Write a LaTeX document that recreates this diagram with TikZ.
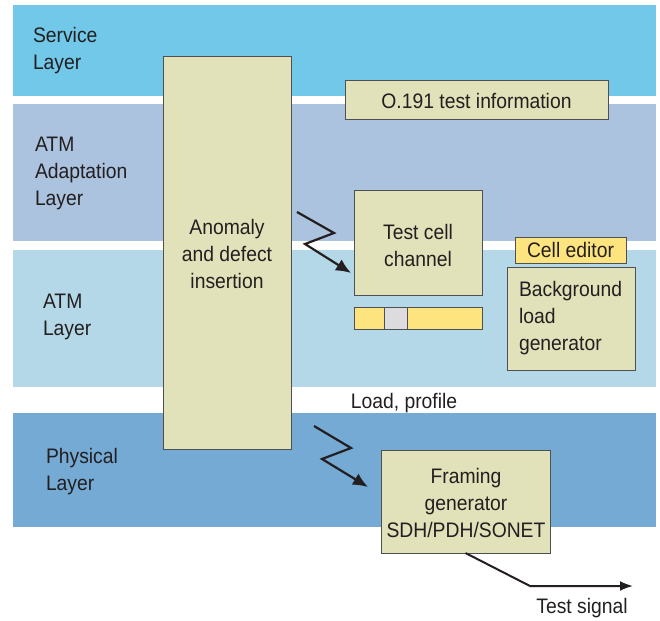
\documentclass[tikz,border=0pt]{standalone}
\usepackage{fontspec}
\setmainfont{Liberation Sans}[FakeStretch=0.92]
\usetikzlibrary{arrows.meta}
\definecolor{svc}{HTML}{72C8E8}
\definecolor{aal}{HTML}{ABC3DF}
\definecolor{atm}{HTML}{B5D8E8}
\definecolor{phy}{HTML}{75AAD5}
\definecolor{boxfill}{HTML}{E1E2B9}
\definecolor{edge}{HTML}{505050}
\definecolor{yel}{HTML}{FDE47F}
\definecolor{gry}{HTML}{DCDCDE}
\definecolor{txt}{HTML}{231F20}
\begin{document}
\begin{tikzpicture}[x=1pt,y=-1pt,
  every node/.style={font=\fontsize{21}{27}\selectfont, text=txt, inner sep=0pt, outer sep=0pt},
  box/.style={fill=boxfill, draw=edge, line width=1pt, anchor=north west},
  ybox/.style={fill=yel, draw=edge, line width=1pt, anchor=north west},
  lbl/.style={align=left, anchor=north west},
  ctr/.style={align=center},
  zig/.style={line width=2.2pt, draw=txt, -{Latex[length=15pt,width=13pt]}}]
\useasboundingbox (0,0) rectangle (660,620);
% bands
\fill[svc] (13,5) rectangle (656,96);
\fill[aal] (13,104) rectangle (656,241);
\fill[atm] (13,250) rectangle (656,387);
\fill[phy] (13,413) rectangle (656,527);
% layer labels
\node[lbl] (lsvc) at (33,27) {Service\\Layer};
\node[lbl] (laal) at (35,137) {ATM\\Adaptation\\Layer};
\node[lbl] (latm) at (43,294) {ATM\\Layer};
\node[lbl] (lphy) at (46,448) {Physical\\Layer};
% boxes
\node[box, minimum width=128pt, minimum height=392pt] (anom) at (163,57) {};
\node[ctr] (anomt) at (227,254) {Anomaly\\and defect\\insertion};
\node[box, minimum width=263pt, minimum height=39pt] (o191) at (345,81) {};
\node (o191t) at (o191.center) {O.191 test information};
\node[box, minimum width=128pt, minimum height=104pt] (tcc) at (354,191) {};
\node[ctr] (tcct) at (418,245) {Test cell\\channel};
\node[ybox, minimum width=128pt, minimum height=22pt] (bar) at (354,307) {};
\node[fill=gry, draw=edge, line width=1pt, anchor=north west, minimum width=23pt, minimum height=22pt] (sq) at (384,307) {};
\node[ybox, minimum width=111pt, minimum height=26pt] (ced) at (515,237) {};
\node (cedt) at (ced.center) {Cell editor};
\node[box, minimum width=128pt, minimum height=103pt] (bg) at (507,267) {};
\node[lbl] (bgt) at (519,281) {Background\\load\\generator};
\node[box, minimum width=169pt, minimum height=103pt] (fr) at (381,450) {};
\node[ctr] (frt) at (466,503) {Framing\\generator\\SDH/PDH/SONET};
\node (load) at (404,403) {Load, profile};
\node (ts) at (582,608) {Test signal};
% zigzag arrows
\coordinate (a1) at (297,212);
\coordinate (a2) at (334,233);
\coordinate (a3) at (305,244);
\coordinate (a4) at (351,273);
\draw[zig] (a1) -- (a2) -- (a3) -- (a4);
\coordinate (b1) at (314,426);
\coordinate (b2) at (351,448);
\coordinate (b3) at (322,459);
\coordinate (b4) at (368,487);
\draw[zig] (b1) -- (b2) -- (b3) -- (b4);
% test signal
\coordinate (tc) at (530,586);
\coordinate (te) at (633,586);
\draw[line width=2pt, draw=txt, -{Latex[length=13pt,width=10pt]}] (fr.south) -- (tc) -- (te);
\end{tikzpicture}
\end{document}
